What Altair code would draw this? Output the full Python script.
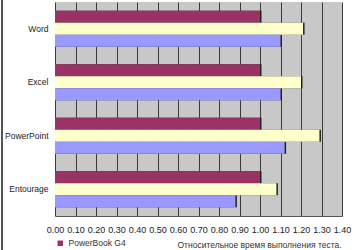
import altair as alt
import pandas as pd

categories = ["Word", "Excel", "PowerPoint", "Entourage"]
series = ["PowerBook G4", "MacBook Pro", "iMac Core Duo"]
powerbook_vals = [1.00, 1.00, 1.00, 1.00]
yellow_vals = [1.21, 1.20, 1.29, 1.08]
lavender_vals = [1.10, 1.10, 1.12, 0.88]
x_ticks = [0.0, 0.1, 0.2, 0.3, 0.4, 0.5, 0.6, 0.7, 0.8, 0.9, 1.0, 1.1, 1.2, 1.3, 1.4]
caption = "Относительное время выполнения теста."
colors = ["#993366", "#FFFFCC", "#9999FF"]

rows = []
for i, c in enumerate(categories):
    for s, vals in zip(series, [powerbook_vals, yellow_vals, lavender_vals]):
        rows.append({"app": c, "series": s, "value": vals[i]})
df = pd.DataFrame(rows)

FONT = "Liberation Sans"

y = alt.Y(
    "app:N",
    sort=categories,
    scale=alt.Scale(paddingInner=0.327, paddingOuter=0.1635),
    axis=alt.Axis(title=None, labelFont=FONT, labelFontSize=8.5, labelColor="#222",
                  ticks=False, domain=False, labelPadding=7, grid=False),
)
yoff = alt.YOffset("series:N", sort=series, scale=alt.Scale(paddingInner=0, paddingOuter=0))
x = alt.X(
    "value:Q",
    scale=alt.Scale(domain=[0, 1.4], nice=False, zero=True),
    axis=alt.Axis(values=x_ticks, format=".2f", grid=True, gridColor="#3a3a3a", gridWidth=1,
                  domainColor="#555", ticks=False, labelFont=FONT, labelFontSize=9,
                  labelColor="#222", labelPadding=9, labelOverlap=False, labelFlush=False,
                  labelBound=False,
                  title=caption, titleFont=FONT, titleFontSize=8.5, titleFontWeight="normal",
                  titleColor="#333", titleX=122, titleY=31, titleAlign="left",
                  titleBaseline="alphabetic"),
)

base = alt.Chart(df)

shadow = base.mark_bar(color="#222222", xOffset=1.5, yOffset=1.5).encode(x=x, y=y, yOffset=yoff)
bars = base.mark_bar().encode(
    x=x, y=y, yOffset=yoff,
    color=alt.Color(
        "series:N",
        scale=alt.Scale(domain=series, range=colors),
        legend=alt.Legend(values=["PowerBook G4"], orient="none", legendX=1, legendY=237,
                          title=None, symbolType="square", symbolSize=30,
                          symbolStrokeWidth=0, labelFont=FONT, labelFontSize=8.5,
                          labelColor="#333", padding=0, labelOffset=4),
    ),
)

border = alt.Chart(pd.DataFrame({"a": [0]})).mark_rule(color="#555555", strokeWidth=2).encode(
    x=alt.value(-53), y=alt.value(-2), y2=alt.value(248)
)
border_r = alt.Chart(pd.DataFrame({"a": [0]})).mark_rule(color="#dddddd", strokeWidth=1).encode(
    x=alt.value(313), y=alt.value(-2), y2=alt.value(248)
)

chart = alt.layer(shadow, bars, border, border_r).properties(
    width=287, height=214,
    padding={"left": 55, "top": 2, "right": 17, "bottom": 34},
    autosize="none",
    background="white",
).configure_view(fill="#c8c8c8", strokeWidth=0)

chart.save("out.html", embed_options={"renderer": "svg", "actions": False})
